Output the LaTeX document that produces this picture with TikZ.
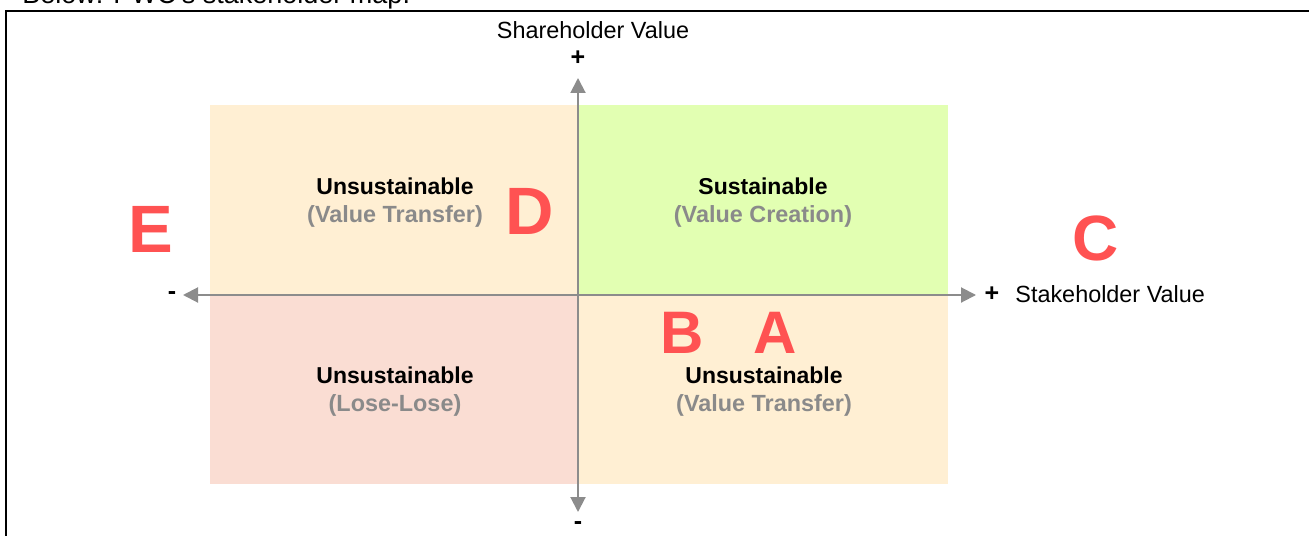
\documentclass[tikz,border=0pt]{standalone}
\usepackage{fontspec}
\setmainfont{Liberation Sans}
\usetikzlibrary{arrows.meta}
\definecolor{peach}{HTML}{FFEFD3}
\definecolor{lime}{HTML}{E2FFB2}
\definecolor{rose}{HTML}{FADDD3}
\definecolor{axisgray}{HTML}{8C8C8C}
\definecolor{subgray}{HTML}{8A8A8A}
\definecolor{letterred}{HTML}{FF5252}
\begin{document}
\begin{tikzpicture}[x=0.5pt,y=-0.5pt,
  title/.style={font=\fontsize{11.5pt}{13pt}\selectfont\bfseries, anchor=base, inner sep=0pt},
  subtitle/.style={font=\fontsize{11.7pt}{13pt}\selectfont\bfseries, text=subgray, anchor=base, inner sep=0pt},
  axislabel/.style={font=\fontsize{11.7pt}{13pt}\selectfont, inner sep=0pt},
  signlabel/.style={font=\fontsize{12.5pt}{13pt}\selectfont\bfseries, inner sep=0pt},
  bigletter/.style={text=letterred, inner sep=0pt},
  axisline/.style={draw=axisgray, line width=1pt,
    {Triangle[length=7.5pt,width=7.5pt]}-{Triangle[length=7.5pt,width=7.5pt]}}
]
\useasboundingbox (0,0) rectangle (1309,535);
\clip (0,0) rectangle (1309,535);

% heading line, cut by the top edge
\node[anchor=base west, inner sep=0pt, font=\fontsize{13.5pt}{15pt}\selectfont] (heading) at (22,4) {Below: PWC's stakeholder map.};

% frame
\coordinate (fbl) at (6,536);
\coordinate (ftl) at (6,11);
\coordinate (ftr) at (1310,11);
\draw[line width=1.2pt] (fbl) -- (ftl) -- (ftr);

% quadrants
\fill[peach] (210,105) rectangle (578,295);
\fill[lime]  (578,105) rectangle (948,295);
\fill[rose]  (210,295) rectangle (578,484);
\fill[peach] (578,295) rectangle (948,484);

% axes
\coordinate (ytop) at (578,78);
\coordinate (ybot) at (578,512);
\coordinate (xleft) at (183,295);
\coordinate (xright) at (976,295);
\draw[axisline] (xleft) -- (xright);
\draw[axisline] (ybot) -- (ytop);

% axis labels
\node[axislabel, anchor=base] (shv) at (593,39) {Shareholder Value};
\node[signlabel] (yplus) at (578,58) {+};
\node[signlabel] (yminus) at (578,526) {-};
\node[signlabel] (xminus) at (172,296) {-};
\node[signlabel] (xplus) at (992,294) {+};
\node[axislabel, anchor=base west] (stv) at (1015,302) {Stakeholder Value};

% quadrant captions
\node[title] (tlA) at (395,194) {Unsustainable};
\node[subtitle] (tlB) at (395,222) {(Value Transfer)};
\node[title] (trA) at (763,194) {Sustainable};
\node[subtitle] (trB) at (763,222) {(Value Creation)};
\node[title] (blA) at (395,383) {Unsustainable};
\node[subtitle] (blB) at (395,411) {(Lose-Lose)};
\node[title] (brA) at (764,383) {Unsustainable};
\node[subtitle] (brB) at (764,411) {(Value Transfer)};

% position markers
\node[bigletter, font=\fontsize{33.5pt}{34pt}\selectfont\bfseries] (E) at (151,229) {E};
\node[bigletter, font=\fontsize{33.5pt}{34pt}\selectfont\bfseries] (D) at (530,211) {D};
\node[bigletter, font=\fontsize{32pt}{33pt}\selectfont\bfseries] (C) at (1096,238) {C};
\node[bigletter, font=\fontsize{30pt}{31pt}\selectfont\bfseries] (B) at (682,333) {B};
\node[bigletter, font=\fontsize{30pt}{31pt}\selectfont\bfseries] (A) at (775,333) {A};
\end{tikzpicture}
\end{document}
